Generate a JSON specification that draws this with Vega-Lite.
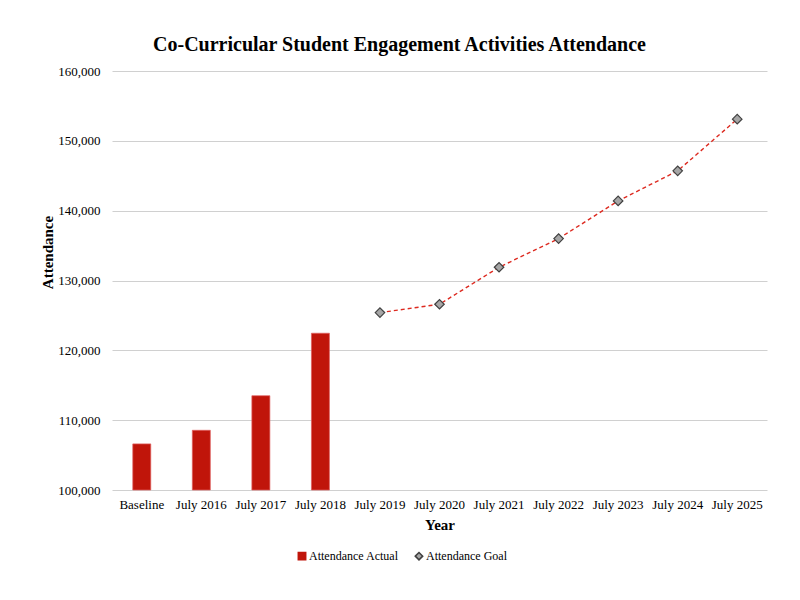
{
  "$schema": "https://vega.github.io/schema/vega-lite/v6.json",
  "autosize": "none",
  "width": 655,
  "height": 419,
  "padding": {"left": 112, "top": 71, "right": 33, "bottom": 110},
  "background": "white",
  "title": {
    "text": "Co-Curricular Student Engagement Activities Attendance",
    "font": "Liberation Serif",
    "fontSize": 20,
    "fontWeight": "bold",
    "color": "#000000",
    "anchor": "middle",
    "dx": -40,
    "offset": 10
  },
  "data": {
    "values": [
      {"Year": "Baseline", "Series": "Attendance Actual", "Value": 106600},
      {"Year": "July 2016", "Series": "Attendance Actual", "Value": 108550},
      {"Year": "July 2017", "Series": "Attendance Actual", "Value": 113500},
      {"Year": "July 2018", "Series": "Attendance Actual", "Value": 122450},
      {"Year": "July 2019", "Series": "Attendance Goal", "Value": 125400},
      {"Year": "July 2020", "Series": "Attendance Goal", "Value": 126600},
      {"Year": "July 2021", "Series": "Attendance Goal", "Value": 131900},
      {"Year": "July 2022", "Series": "Attendance Goal", "Value": 136000},
      {"Year": "July 2023", "Series": "Attendance Goal", "Value": 141400},
      {"Year": "July 2024", "Series": "Attendance Goal", "Value": 145700},
      {"Year": "July 2025", "Series": "Attendance Goal", "Value": 153100}
    ]
  },
  "encoding": {
    "x": {
      "field": "Year",
      "type": "nominal",
      "sort": null,
      "title": "Year",
      "scale": {"domain": ["Baseline", "July 2016", "July 2017", "July 2018", "July 2019", "July 2020", "July 2021", "July 2022", "July 2023", "July 2024", "July 2025"]},
      "axis": {
        "labelAngle": 0,
        "labelFont": "Liberation Serif",
        "labelFontSize": 13,
        "labelColor": "#000000",
        "labelPadding": 8,
        "ticks": false,
        "domain": false,
        "titleFont": "Liberation Serif",
        "titleFontSize": 15,
        "titleFontWeight": "bold",
        "titleColor": "#000000",
        "titlePadding": 6
      }
    },
    "y": {
      "field": "Value",
      "type": "quantitative",
      "title": "Attendance",
      "scale": {"domain": [100000, 160000], "zero": false, "nice": false},
      "axis": {
        "values": [100000, 110000, 120000, 130000, 140000, 150000, 160000],
        "format": ",.0f",
        "labelFont": "Liberation Serif",
        "labelFontSize": 13,
        "labelColor": "#000000",
        "labelPadding": 12,
        "ticks": false,
        "domain": false,
        "grid": true,
        "gridColor": "#d0d0d0",
        "gridWidth": 1,
        "titleFont": "Liberation Serif",
        "titleFontSize": 15,
        "titleFontWeight": "bold",
        "titleColor": "#000000",
        "titleX": -65,
        "titleY": 181,
        "titleBaseline": "middle",
        "titleAlign": "center",
        "titleAngle": 270
      }
    }
  },
  "layer": [
    {
      "transform": [{"filter": "datum.Series === 'Attendance Actual'"}],
      "mark": {"type": "bar", "size": 18, "stroke": "#e06060", "strokeWidth": 0.7},
      "encoding": {
        "y2": {"datum": 100000},
        "color": {
          "field": "Series",
          "type": "nominal",
          "scale": {"domain": ["Attendance Actual", "Attendance Goal"], "range": ["#c0150a", "#a6a6a6"]},
          "legend": {
            "title": null,
            "orient": "none",
            "direction": "horizontal",
            "legendX": 184,
            "legendY": 479,
            "labelFont": "Liberation Serif",
            "labelFontSize": 12,
            "labelColor": "#000000",
            "symbolSize": 55,
            "columnPadding": 13,
            "labelOffset": 1
          }
        }
      }
    },
    {
      "transform": [{"filter": "datum.Series === 'Attendance Goal'"}],
      "mark": {"type": "line", "color": "#dd2a20", "strokeDash": [4, 3], "strokeWidth": 1.4},
      "encoding": {}
    },
    {
      "transform": [{"filter": "datum.Series === 'Attendance Goal'"}],
      "mark": {"type": "point", "filled": true, "size": 90, "strokeWidth": 1.2, "opacity": 1},
      "encoding": {
        "color": {"field": "Series", "type": "nominal"},
        "shape": {
          "field": "Series",
          "type": "nominal",
          "scale": {"domain": ["Attendance Actual", "Attendance Goal"], "range": ["square", "diamond"]}
        },
        "stroke": {
          "field": "Series",
          "type": "nominal",
          "scale": {"domain": ["Attendance Actual", "Attendance Goal"], "range": ["#c0150a", "#404040"]}
        }
      }
    }
  ],
  "config": {
    "view": {"stroke": null},
    "font": "Liberation Serif"
  }
}
